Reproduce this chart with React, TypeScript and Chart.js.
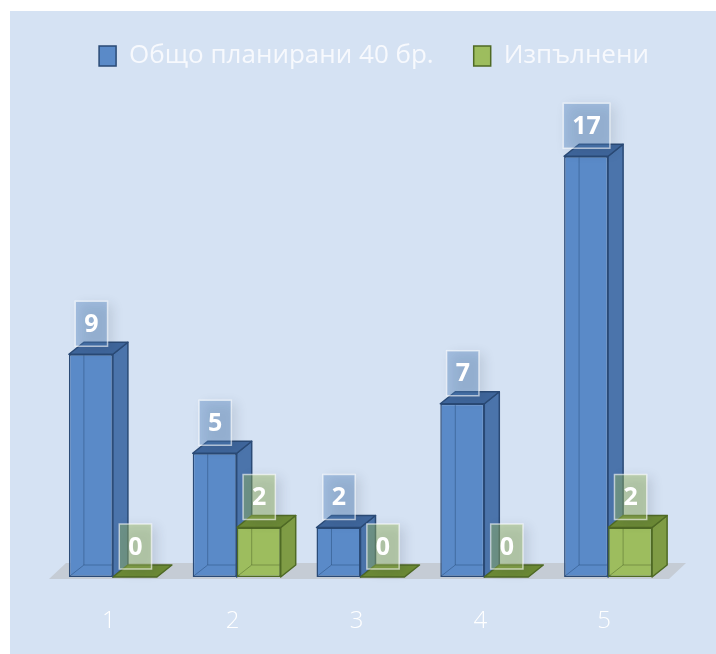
import React, { useEffect, useRef } from 'react';
import { Chart, registerables } from 'chart.js';

Chart.register(...registerables);

const CATEGORIES = ['1', '2', '3', '4', '5'];
const SERIES_NAMES = ['Общо планирани 40 бр.', 'Изпълнени'];
const PLANNED = [9, 5, 2, 7, 17];
const DONE = [0, 2, 0, 0, 2];
const Y_MIN = 0;
const Y_MAX = 20.12;

const DX = 15;
const DY = 12;

const BG = '#d5e2f3';
const PALETTES = [
  { front: '#5a8ac8', side: '#4b74ab', top: '#3f669c', edge: '#2a4a76', label: 'rgba(79,129,189,0.38)', inner: 'rgba(35,70,115,0.45)' },
  { front: '#9dbd5e', side: '#7f9c45', top: '#6c8a35', edge: '#4f6a25', label: 'rgba(155,187,89,0.42)', inner: 'rgba(70,95,35,0.45)' },
];

const LEGEND_FONT = "'Open Sans', sans-serif";
const TICK_FONT = "'Open Sans', sans-serif";

function poly(ctx: CanvasRenderingContext2D, pts: number[][], fill: string, stroke: string) {
  ctx.beginPath();
  ctx.moveTo(pts[0][0], pts[0][1]);
  for (let i = 1; i < pts.length; i++) ctx.lineTo(pts[i][0], pts[i][1]);
  ctx.closePath();
  ctx.fillStyle = fill;
  ctx.fill();
  ctx.strokeStyle = stroke;
  ctx.lineWidth = 1.5;
  ctx.lineJoin = 'round';
  ctx.stroke();
}

const bar3d = {
  id: 'bar3d',
  beforeDatasetsDraw(chart: any) {
    const { ctx, chartArea, scales } = chart;
    const base = scales.y.getPixelForValue(0);
    ctx.save();
    // floor
    ctx.fillStyle = '#c5ccd5';
    ctx.beginPath();
    ctx.moveTo(chartArea.left - 2, base + 2);
    ctx.lineTo(chartArea.right - 1, base + 2);
    ctx.lineTo(chartArea.right - 1 + DX + 2, base - DY - 2);
    ctx.lineTo(chartArea.left - 2 + DX + 2, base - DY - 2);
    ctx.closePath();
    ctx.fill();
    chart.data.datasets.forEach((ds: any, i: number) => {
      const meta = chart.getDatasetMeta(i);
      const pal = PALETTES[i];
      meta.data.forEach((el: any) => {
        const { x, y, base: b, width } = el.getProps(['x', 'y', 'base', 'width'], true);
        const l = x - width / 2;
        const r = x + width / 2;
        const top = Math.min(y, b);
        if (b - top > 0.5) {
          poly(ctx, [[r, top], [r + DX, top - DY], [r + DX, b - DY], [r, b]], pal.side, pal.edge);
        }
        poly(ctx, [[l, top], [l + DX, top - DY], [r + DX, top - DY], [r, top]], pal.top, pal.edge);
      });
    });
    ctx.restore();
  },
  afterDatasetsDraw(chart: any) {
    const { ctx } = chart;
    ctx.save();
    // inner (see-through) edges
    chart.data.datasets.forEach((ds: any, i: number) => {
      const meta = chart.getDatasetMeta(i);
      const pal = PALETTES[i];
      meta.data.forEach((el: any) => {
        const { x, y, base: b, width } = el.getProps(['x', 'y', 'base', 'width'], true);
        const l = x - width / 2;
        const r = x + width / 2;
        const top = Math.min(y, b);
        if (b - top < DY + 2) return;
        ctx.strokeStyle = pal.inner;
        ctx.lineWidth = 1;
        ctx.beginPath();
        ctx.moveTo(l + DX, top + 1);
        ctx.lineTo(l + DX, b - DY);
        ctx.lineTo(r - 1, b - DY);
        ctx.moveTo(l + 1, b - 1);
        ctx.lineTo(l + DX, b - DY);
        ctx.stroke();
      });
    });
    // value labels
    ctx.font = `bold 25px ${TICK_FONT}`;
    ctx.textAlign = 'center';
    ctx.textBaseline = 'middle';
    chart.data.datasets.forEach((ds: any, i: number) => {
      const meta = chart.getDatasetMeta(i);
      const pal = PALETTES[i];
      meta.data.forEach((el: any, j: number) => {
        const { x, y, base: b } = el.getProps(['x', 'y', 'base'], true);
        const top = Math.min(y, b);
        const text = String(ds.data[j]);
        const w = Math.max(31, ctx.measureText(text).width + 18);
        const h = 45;
        const cx = x + 0.5;
        const by = top - 8;
        const bx = cx - w / 2;
        const byTop = by - h;
        ctx.save();
        ctx.shadowColor = 'rgba(40,50,70,0.35)';
        ctx.shadowBlur = 12;
        ctx.shadowOffsetX = 5;
        ctx.shadowOffsetY = 3;
        ctx.fillStyle = pal.label;
        ctx.fillRect(bx, byTop, w, h);
        ctx.restore();
        ctx.strokeStyle = 'rgba(255,255,255,0.6)';
        ctx.lineWidth = 1.5;
        ctx.strokeRect(bx, byTop, w, h);
        ctx.fillStyle = '#ffffff';
        ctx.fillText(text, cx, byTop + h / 2 + 1);
      });
    });
    ctx.restore();
  },
};

export default function App() {
  const ref = useRef<HTMLCanvasElement | null>(null);
  useEffect(() => {
    if (!ref.current) return;
    const chart = new Chart(ref.current, {
      type: 'bar',
      data: {
        labels: CATEGORIES,
        datasets: [
          {
            label: SERIES_NAMES[0],
            data: PLANNED,
            backgroundColor: PALETTES[0].front,
            borderColor: PALETTES[0].edge,
            borderWidth: 1.5,
            borderSkipped: false,
            categoryPercentage: 0.711,
            barPercentage: 1,
          },
          {
            label: SERIES_NAMES[1],
            data: DONE,
            backgroundColor: PALETTES[1].front,
            borderColor: PALETTES[1].edge,
            borderWidth: 1.5,
            borderSkipped: false,
            categoryPercentage: 0.711,
            barPercentage: 1,
          },
        ],
      },
      options: {
        responsive: false,
        maintainAspectRatio: false,
        animation: false,
        devicePixelRatio: 1,
        layout: { padding: { left: 41, right: 19, top: -8, bottom: 0 } },
        plugins: {
          legend: {
            position: 'top',
            labels: {
              color: '#f7f9fd',
              font: { family: LEGEND_FONT, size: 26 },
              boxWidth: 17,
              boxHeight: 20,
              padding: 40,
            },
          },
          tooltip: { enabled: false },
        },
        scales: {
          x: {
            grid: { display: false },
            border: { display: false },
            ticks: {
              color: '#ffffff',
              font: { family: TICK_FONT, size: 24, weight: '300' },
              padding: 22,
              labelOffset: -4,
            },
            afterFit: (s: any) => { s.height = 77; },
          },
          y: {
            position: 'right',
            min: Y_MIN,
            max: Y_MAX,
            grid: { display: false },
            border: { display: false },
            ticks: { display: false },
            afterFit: (s: any) => { s.width = 27; },
          },
        },
      },
      plugins: [bar3d],
    } as any);
    return () => chart.destroy();
  }, []);
  return (
    <div style={{ position: 'absolute', left: 10, top: 11, width: 706, height: 643, background: BG }}>
      <canvas ref={ref} width={706} height={643} style={{ display: 'block' }} />
    </div>
  );
}
